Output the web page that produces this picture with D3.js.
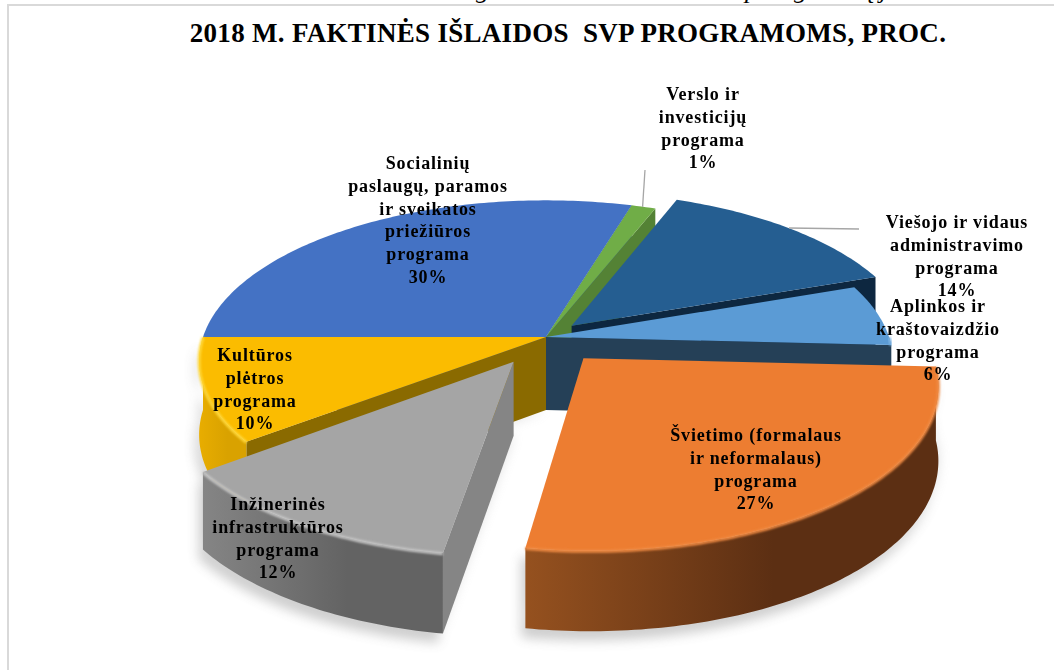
<!DOCTYPE html>
<html>
<head>
<meta charset="utf-8">
<script src="https://cdn.jsdelivr.net/npm/d3@7"></script>
<style>
body { margin: 0; background: #fff; }
text { font-family: "Liberation Serif", serif; font-weight: bold; fill: #000; }
</style>
</head>
<body>
<div id="chart"></div>
<script>
var title = "2018 M. FAKTINĖS IŠLAIDOS  SVP PROGRAMOMS, PROC.";

// slices clockwise, starting at the first one after the top of the pie
var categories = ["Verslo ir investicijų programa",
  "Viešojo ir vidaus administravimo programa",
  "Aplinkos ir kraštovaizdžio programa",
  "Švietimo (formalaus ir neformalaus) programa",
  "Inžinerinės infrastruktūros programa",
  "Kultūros plėtros programa",
  "Socialinių paslaugų, paramos ir sveikatos priežiūros programa"];
var values = [1.3, 13.7, 6.2, 26.7, 12.1, 10.4, 29.6];

var labelLines = [["Verslo ir", "investicijų", "programa"],
  ["Viešojo ir vidaus", "administravimo", "programa"],
  ["Aplinkos ir", "kraštovaizdžio", "programa"],
  ["Švietimo (formalaus", "ir neformalaus)", "programa"],
  ["Inžinerinės", "infrastruktūros", "programa"],
  ["Kultūros", "plėtros", "programa"],
  ["Socialinių", "paslaugų, paramos", "ir sveikatos", "priežiūros", "programa"]];

// bits of the document line cut off above the frame
var cutLetters = ["g", "p", "g", "ų", "j"];
var cutX = [476, 745, 794, 862, 880];

var topColors = ["#70ad47", "#255e91", "#5b9bd5", "#ed7d31", "#a5a5a5", "#fbbc00", "#4472c4"];
var faceColors = ["#548235", "#0d2740", "#254057", "#8f4f20", "#858585", "#8a6a00", "#2f5597"];
var wallLeft = ["#548235", "#0d2740", "#254057", "#95511f", "#858585", "#e8ad00", "#2f5597"];
var wallRight = ["#548235", "#0d2740", "#254057", "#5c2f13", "#636363", "#d9a200", "#2f5597"];
var bevelColors = ["#8bc464", "#3a76aa", "#7db3e3", "#f08a42", "#c4c4c4", "#ffd83a", "#6b93d8"];

var explode = [0, 0.105, 0, 0.17, 0.18, 0, 0];
var labelX = [703, 957, 938, 756, 278, 255, 428];
var labelY = [100, 228, 312, 441, 510, 361, 169];

var width = 1054, height = 670;
var cx = 546, cy = 337, rx = 343, ry = 157, persp = 0.149, thick = 73;
var lineGap = 22.8;
var startDeg = 16.6;

var svg = d3.select("#chart").append("svg")
  .attr("width", width)
  .attr("height", height);

var defs = svg.append("defs");
defs.append("filter").attr("id", "soft")
  .attr("x", "-20%").attr("y", "-20%").attr("width", "140%").attr("height", "140%")
  .append("feGaussianBlur").attr("stdDeviation", 6);
defs.append("filter").attr("id", "bev")
  .attr("x", "-10%").attr("y", "-10%").attr("width", "120%").attr("height", "120%")
  .append("feGaussianBlur").attr("stdDeviation", 1.2);

values.forEach(function(v, i) {
  var g = defs.append("linearGradient").attr("id", "wall" + i);
  g.append("stop").attr("offset", "0%").attr("stop-color", wallLeft[i]);
  g.append("stop").attr("offset", "60%").attr("stop-color", wallRight[i]);
});

cutLetters.forEach(function(s, i) {
  svg.append("text")
    .attr("x", cutX[i]).attr("y", -2)
    .attr("font-size", "26px")
    .style("font-style", "italic")
    .style("font-weight", "normal")
    .text(s);
});

// frame
svg.append("line").attr("x1", 8).attr("x2", width).attr("y1", 5).attr("y2", 5)
  .attr("stroke", "#d9d9d9").attr("stroke-width", 2);
svg.append("line").attr("x1", 8).attr("x2", 8).attr("y1", 4).attr("y2", height)
  .attr("stroke", "#d9d9d9").attr("stroke-width", 2);

svg.append("text")
  .attr("x", 568).attr("y", 42)
  .attr("text-anchor", "middle")
  .attr("font-size", "27px")
  .attr("letter-spacing", "0.3px")
  .style("white-space", "pre")
  .text(title);

var pie = d3.pie().sort(null)
  .startAngle(startDeg * Math.PI / 180)
  .endAngle((startDeg + 360) * Math.PI / 180);
var slices = pie(values);

// plane -> screen, z is the drop under the top surface
function project(u, v, z) {
  var s = 1 / (1 - persp * v);
  return [cx + rx * u * s, cy + ry * v * s + z * (1 + 0.5 * (s - 1))];
}
function apex(d, i) {
  var mid = (d.startAngle + d.endAngle) / 2;
  return [explode[i] * Math.sin(mid), -explode[i] * Math.cos(mid)];
}
function rim(d, i, a, z) {
  var o = apex(d, i);
  return project(o[0] + Math.sin(a), o[1] - Math.cos(a), z);
}
function arcAngles(a0, a1) {
  var n = Math.max(2, Math.ceil((a1 - a0) * 60));
  return d3.range(n + 1).map(function(k) { return a0 + (a1 - a0) * k / n; });
}
var line = d3.line();

function topPath(d, i) {
  var o = apex(d, i);
  var pts = [project(o[0], o[1], 0)];
  arcAngles(d.startAngle, d.endAngle).forEach(function(a) { pts.push(rim(d, i, a, 0)); });
  return line(pts) + "Z";
}
function facePath(d, i, a) {
  var o = apex(d, i);
  return line([project(o[0], o[1], 0), rim(d, i, a, 0), rim(d, i, a, thick), project(o[0], o[1], thick)]) + "Z";
}
// part of the rim that looks at the camera
function frontRange(d) {
  var lo = Math.max(d.startAngle, Math.PI / 2), hi = Math.min(d.endAngle, Math.PI * 1.5);
  return lo < hi ? [lo, hi] : null;
}
function wallPath(d, i, range) {
  var as = arcAngles(range[0], range[1]);
  var pts = as.map(function(a) { return rim(d, i, a, 0); });
  as.slice().reverse().forEach(function(a) { pts.push(rim(d, i, a, thick)); });
  return line(pts) + "Z";
}

// soft shadow under the front pieces
var shadow = svg.append("g").attr("filter", "url(#soft)").attr("opacity", 0.3);
[3, 4, 5].forEach(function(i) {
  var r = frontRange(slices[i]);
  shadow.append("path").attr("d", wallPath(slices[i], i, r))
    .attr("transform", "translate(-4,9)").attr("fill", "#555");
  shadow.append("path").attr("d", topPath(slices[i], i))
    .attr("transform", "translate(0," + thick + ")").attr("fill", "#999");
});

// back to front
var order = [6, 0, 1, 2, 5, 4, 3];
order.forEach(function(i) {
  var d = slices[i];
  var g = svg.append("g").attr("class", "slice");
  var r = frontRange(d);
  // cut faces: keep only those turned to the camera
  [d.startAngle, d.endAngle].forEach(function(a, k) {
    var o = apex(d, i);
    var p0 = project(o[0], o[1], 0), p1 = rim(d, i, a, 0);
    var cross = (p1[0] - p0[0]);
    if ((k == 1 && cross > -40) || (k == 0 && cross < 0)) {
      g.append("path").attr("d", facePath(d, i, a)).attr("fill", faceColors[i]);
    }
  });
  if (r) {
    g.append("path").attr("d", wallPath(d, i, r)).attr("fill", "url(#wall" + i + ")");
  }
  g.append("path").attr("d", topPath(d, i)).attr("fill", topColors[i]);
  if (r) {
    var rimLine = arcAngles(r[0], r[1]).map(function(a) { return rim(d, i, a, 0.5); });
    g.append("path").attr("d", line(rimLine)).attr("fill", "none")
      .attr("stroke", bevelColors[i]).attr("stroke-width", 3)
      .attr("filter", "url(#bev)");
  }
});

// leader lines, from the rim mid point up to the label
[0, 1].forEach(function(i) {
  var d = slices[i];
  var p = rim(d, i, (d.startAngle + d.endAngle) / 2, 0);
  var end = i == 0 ? [645, 170] : [859, 229];
  var from = i == 0 ? [p[0] - 1, p[1]] : [789, 228];
  svg.append("line")
    .attr("x1", from[0]).attr("y1", from[1]).attr("x2", end[0]).attr("y2", end[1])
    .attr("stroke", "#a6a6a6").attr("stroke-width", 1.3);
});

// data labels
slices.forEach(function(d, i) {
  var t = svg.append("text")
    .attr("text-anchor", "middle")
    .attr("font-size", "18px")
    .attr("letter-spacing", "0.85px");
  labelLines[i].concat([Math.round(values[i]) + "%"]).forEach(function(s, k) {
    t.append("tspan").attr("x", labelX[i]).attr("y", labelY[i] + k * lineGap).text(s);
  });
});
</script>
</body>
</html>
